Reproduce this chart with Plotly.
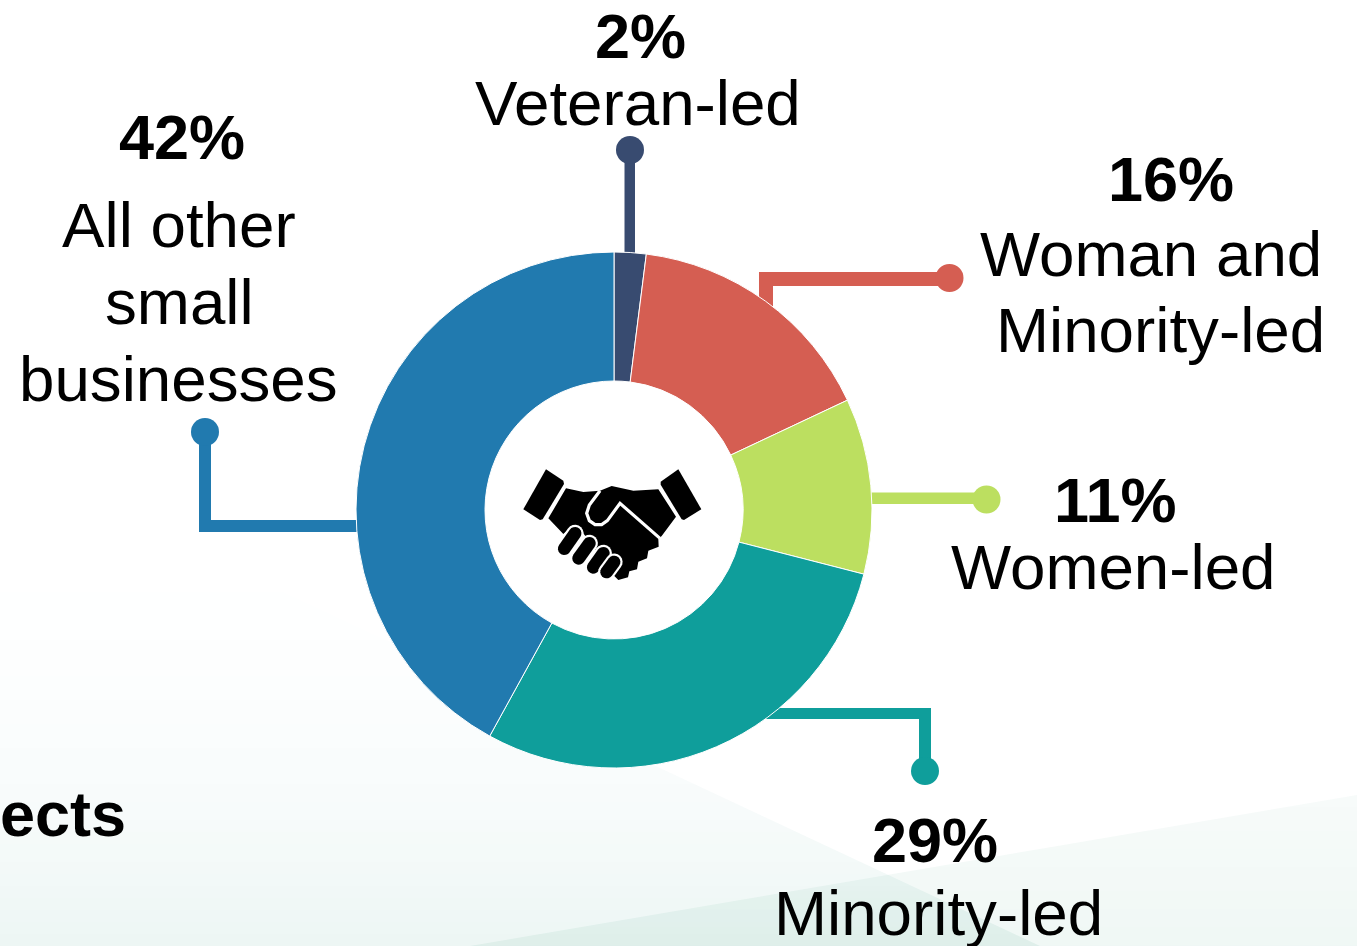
import numpy as np
import plotly.graph_objects as go

W, H = 1357, 946

categories = ["Veteran-led", "Woman and Minority-led", "Women-led", "Minority-led", "All other small businesses"]
shares = [2, 16, 11, 29, 42]
colors = ["#384B70", "#D55E52", "#BCDF60", "#0F9E9B", "#217AAF"]
FONT = "Liberation Sans"

def px(x): return x / W
def py(y): return 1 - y / H

def path(points, close=True):
    s = "M" + " L".join(f"{px(x):.5f},{py(y):.5f}" for x, y in points)
    return s + (" Z" if close else "")

shapes = []

def poly(points, fill, layer="below"):
    shapes.append(dict(type="path", xref="paper", yref="paper", path=path(points),
                       fillcolor=fill, line=dict(width=0), layer=layer))

def circle(cx, cy, r, fill, layer="below"):
    shapes.append(dict(type="circle", xref="paper", yref="paper", x0=px(cx - r), x1=px(cx + r),
                       y0=py(cy + r), y1=py(cy - r), fillcolor=fill, line=dict(width=0), layer=layer))

# ---- soft background facets, faded with stacked translucent bands
def left_edge(y):
    return 660 + (y - 768) * 380 / 178

for y0 in range(520, 946, 6):
    y1 = y0 + 6
    t = (y0 - 520) / 426
    a = t ** 2 * 0.078
    g = 140
    b = int(170 - 60 * t)
    poly([(0, y0), (max(0, left_edge(y0)), y0), (left_edge(y1), y1), (0, y1)],
         f"rgba(20,{g},{b},{a:.4f})")

def wedge_x(y):
    return 470 + (946 - y) * 887 / 151

for y0 in range(795, 946, 6):
    y1 = y0 + 6
    t = (y0 - 795) / 151
    poly([(wedge_x(y0), y0), (W, y0), (W, y1), (wedge_x(y1), y1)],
         f"rgba(20,140,100,{0.035 + 0.03 * t:.4f})")

# ---- connectors
circle(614, 510, 130, "#ffffff")
poly([(624.5, 150), (635, 150), (635, 270), (624.5, 270)], colors[0])
circle(630, 150, 14, colors[0])
poly([(759, 272), (950, 272), (950, 286), (773, 286), (773, 330), (759, 330)], colors[1])
circle(949.5, 278, 14, colors[1])
poly([(850, 492.5), (987, 492.5), (987, 504), (850, 504)], colors[2])
circle(986.5, 499.5, 14, colors[2])
poly([(740, 708), (931, 708), (931, 771), (919, 771), (919, 719), (740, 719)], colors[3])
circle(925, 771, 14, colors[3])
poly([(199, 432), (211, 432), (211, 520), (380, 520), (380, 532), (199, 532)], colors[4])
circle(205, 432, 14, colors[4])

# ---- handshake icon (outline points from the 3x crop with origin 500,450)
def z(points):
    return [(500 + x / 3, 450 + y / 3) for x, y in points]

def capsule(a, b, r):
    (x0, y0), (x1, y1) = a, b
    t = np.arctan2(y1 - y0, x1 - x0)
    th = np.linspace(-np.pi / 2, np.pi / 2, 10)
    pts = [(x1 + r * np.cos(t + v), y1 + r * np.sin(t + v)) for v in th]
    pts += [(x0 + r * np.cos(t + np.pi + v), y0 + r * np.sin(t + np.pi + v)) for v in th]
    return pts

poly(z([(138, 58), (190, 92), (192, 102), (128, 208), (120, 210), (70, 178)]), "#000", "above")
poly(z([(535, 58), (482, 95), (482, 104), (545, 208), (552, 210), (604, 178)]), "#000", "above")
poly(z([(198, 115), (250, 126), (300, 122), (335, 108), (400, 122), (475, 118), (528, 200), (485, 258),
        (475, 268), (476, 290), (445, 302), (441, 325), (415, 335), (411, 358), (388, 364), (384, 382),
        (355, 390), (340, 375), (250, 250), (220, 225), (190, 252), (145, 205)]), "#000", "above")
shapes.append(dict(type="path", xref="paper", yref="paper",
                   path=path(z([(300, 122), (268, 165), (260, 190), (268, 212), (285, 224), (305, 224),
                                (322, 212), (360, 160), (480, 265)]), close=False),
                   line=dict(color="#fff", width=3.2), layer="above"))
for a, b in [((225, 250), (193, 296)), ((268, 280), (236, 325)), ((310, 310), (280, 352)), ((342, 336), (320, 366))]:
    A, B = z([a, b])
    poly(capsule(A, B, 8.6), "#fff", "above")
    poly(capsule(A, B, 6.4), "#000", "above")

# ---- labels: text, centre x, baseline y, bold
label_text = ["2%", "Veteran-led", "42%", "All other", "small", "businesses", "16%", "Woman and",
              "Minority-led", "11%", "Women-led", "29%", "Minority-led"]
label_x = [640, 638, 182, 179, 179, 178, 1171, 1151, 1160, 1115, 1113, 935, 938]
label_base = [58, 125, 159, 247, 324, 401, 201, 276, 352, 522, 589, 862, 935]
label_bold = [1, 0, 1, 0, 0, 0, 1, 0, 0, 1, 0, 1, 0]

annotations = []
for t, x, b, bold in zip(label_text, label_x, label_base, label_bold):
    annotations.append(dict(text=f"<b>{t}</b>" if bold else t, x=px(x), y=py(b + 14), xref="paper", yref="paper",
                            xanchor="center", yanchor="bottom", showarrow=False, borderpad=0,
                            font=dict(family=FONT, size=63 if bold else 63.7, color="#000")))
annotations.append(dict(text="<b>ects</b>", x=0, y=py(835 + 14), xref="paper", yref="paper", xanchor="left",
                        yanchor="bottom", showarrow=False, borderpad=0, borderwidth=0,
                        font=dict(family=FONT, size=63, color="#000")))

fig = go.Figure(go.Pie(
    labels=categories, values=shares, sort=False, direction="clockwise", rotation=0,
    hole=0.5, textinfo="none", showlegend=False,
    marker=dict(colors=colors, line=dict(color="#ffffff", width=1)),
    domain=dict(x=[px(356), px(872)], y=[py(768), py(252)]),
))
fig.update_layout(width=W, height=H, margin=dict(l=0, r=0, t=0, b=0), paper_bgcolor="#ffffff",
                  plot_bgcolor="#ffffff", shapes=shapes, annotations=annotations, showlegend=False)
fig.write_html("out.html", config=dict(displayModeBar=False),
               post_script="document.body.style.margin='0';document.body.style.overflow='hidden';")
